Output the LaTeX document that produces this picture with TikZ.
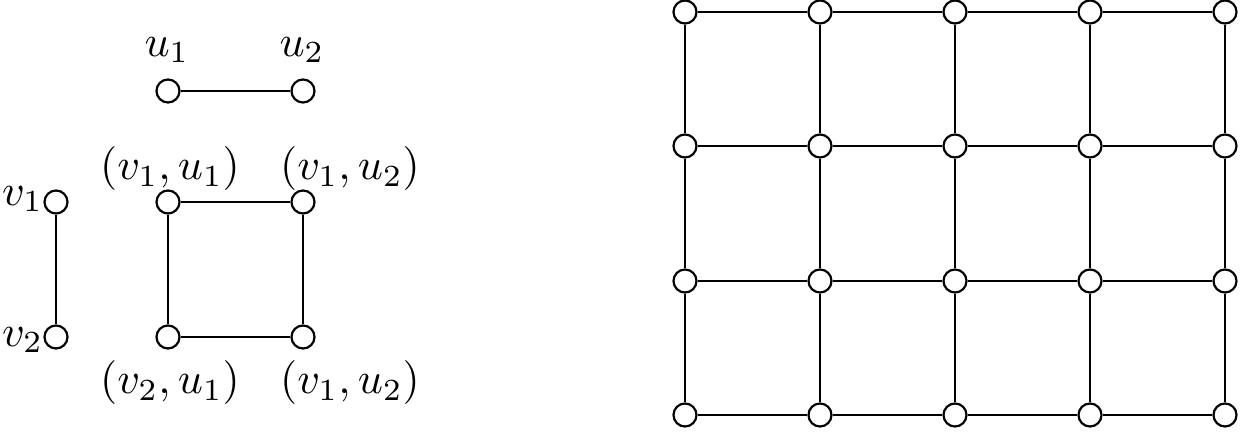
\documentclass[tikz,border=0pt]{standalone}
\begin{document}
\begin{tikzpicture}[x=0.008cm,y=-0.008cm,
  vtx/.style={circle,draw,fill=white,minimum size=0.184cm,inner sep=0pt,line width=0.5pt},
  lbl/.style={inner sep=0pt},
  edge/.style={line width=0.5pt}]
\useasboundingbox (0,0) rectangle (1242,434);
% factor graphs
\node[vtx] (u1) at (168,91) {};
\node[vtx] (u2) at (303,91) {};
\node[lbl] (lu1) at (167,50) {$u_1$};
\node[lbl] (lu2) at (302,50) {$u_2$};
\draw[edge] (u1) -- (u2);
\node[vtx] (v1) at (56,202) {};
\node[vtx] (v2) at (56,337) {};
\node[lbl,anchor=east] (lv1) at (44,199) {$v_1$};
\node[lbl,anchor=east] (lv2) at (44,340) {$v_2$};
\draw[edge] (v1) -- (v2);
% product square
\node[vtx] (a) at (168,202) {};
\node[vtx] (b) at (303,202) {};
\node[vtx] (c) at (168,337) {};
\node[vtx] (d) at (303,337) {};
\draw[edge] (a) -- (b) (b) -- (d) (d) -- (c) (c) -- (a);
\node[lbl] (la) at (170,169) {$(v_1,u_1)$};
\node[lbl] (lb) at (350,169) {$(v_1,u_2)$};
\node[lbl] (lc) at (170,383) {$(v_2,u_1)$};
\node[lbl] (ld) at (350,383) {$(v_1,u_2)$};
% grid
\foreach \i/\x in {0/685,1/820,2/955,3/1090,4/1225}{
  \foreach \j/\y in {0/12,1/146,2/281,3/415}{
    \node[vtx] (g\i\j) at (\x,\y) {};
  }
}
\foreach \i in {0,...,4}{
  \foreach \j/\k in {0/1,1/2,2/3}{
    \draw[edge] (g\i\j) -- (g\i\k);
  }
}
\foreach \j in {0,...,3}{
  \foreach \i/\k in {0/1,1/2,2/3,3/4}{
    \draw[edge] (g\i\j) -- (g\k\j);
  }
}
\end{tikzpicture}
\end{document}
